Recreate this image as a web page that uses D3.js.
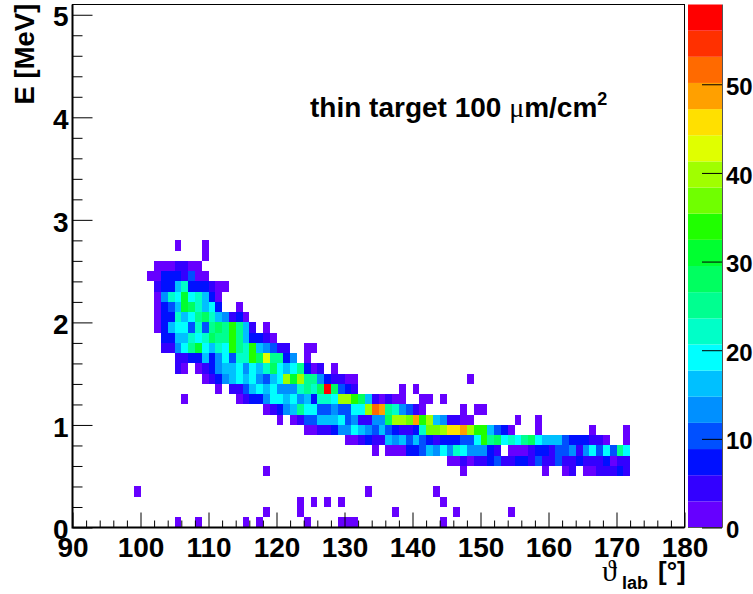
<!DOCTYPE html>
<html>
<head>
<meta charset="utf-8">
<script src="https://d3js.org/d3.v7.min.js"></script>
<style>
    html, body { margin: 0; padding: 0; background: #fff; }
    svg { display: block; }
    text { font-family: "Liberation Sans", Arial, sans-serif; font-weight: bold; fill: #000; }
</style>
</head>
<body>
<div id="chart"></div>
<script>
// bins are 1 degree wide and 0.1 MeV high
var binWidth = 1;
var binHeight = 0.1;

// each row of the histogram: lower energy edge, first angle, counts (0 = empty bin)
var rowEnergy = [2.7, 2.6, 2.5, 2.4, 2.3, 2.2, 2.1, 2.0, 1.9, 1.8, 1.7, 1.6, 1.5, 1.4, 1.3, 1.2, 1.1, 1.0, 0.9, 0.8, 0.7, 0.6, 0.5];
var rowStart = [105, 109, 102, 101, 102, 102, 102, 102, 102, 103, 103, 105, 105, 109, 111, 106, 118, 120, 124, 130, 134, 145, 162];
var rowCounts = [
    [1, 0, 0, 0, 1],
    [1],
    [1, 1, 1, 4, 4, 1, 1],
    [1, 1, 7, 7, 7, 4, 10, 1, 1],
    [4, 7, 7, 16, 22, 7, 7, 7, 4, 1, 1],
    [1, 13, 22, 19, 31, 19, 22, 16, 7, 1],
    [1, 7, 10, 16, 31, 28, 22, 16, 19, 7, 0, 0, 1],
    [1, 7, 7, 22, 16, 19, 25, 28, 22, 16, 13, 4, 7, 1],
    [1, 7, 16, 19, 19, 10, 22, 10, 25, 28, 25, 34, 25, 16, 4, 0, 1],
    [7, 7, 16, 16, 22, 19, 22, 28, 25, 25, 34, 25, 16, 7, 7, 4, 1],
    [4, 4, 13, 19, 25, 31, 19, 16, 22, 19, 34, 25, 22, 34, 16, 13, 10, 4, 4, 0, 0, 1, 1],
    [4, 4, 7, 7, 16, 7, 13, 19, 10, 22, 22, 34, 28, 43, 25, 25, 7, 13, 0, 1],
    [4, 1, 0, 1, 4, 7, 13, 16, 16, 19, 13, 19, 16, 22, 28, 19, 16, 19, 25, 7, 1, 4, 0, 1],
    [1, 4, 7, 13, 16, 19, 16, 19, 13, 10, 16, 19, 40, 31, 40, 25, 25, 13, 7, 4, 4, 1, 1, 0, 0, 0, 0, 0, 0, 0, 0, 0, 0, 0, 0, 0, 0, 0, 0, 1],
    [1, 0, 4, 4, 10, 16, 19, 16, 19, 13, 13, 13, 22, 25, 22, 28, 58, 28, 10, 7, 4, 0, 0, 0, 0, 0, 0, 1, 0, 1],
    [1, 0, 0, 0, 0, 0, 0, 0, 1, 4, 7, 7, 13, 19, 19, 16, 19, 13, 16, 7, 22, 22, 19, 40, 40, 34, 28, 16, 4, 1, 4, 1, 1, 0, 0, 1, 1, 0, 1],
    [1, 4, 7, 13, 16, 25, 19, 19, 10, 10, 13, 10, 10, 19, 19, 40, 52, 49, 25, 22, 13, 10, 4, 1, 0, 0, 0, 0, 0, 1, 0, 1, 1],
    [1, 0, 1, 4, 10, 10, 16, 16, 16, 19, 10, 13, 4, 4, 13, 13, 28, 40, 40, 37, 49, 34, 40, 16, 13, 4, 4, 1, 1, 0, 0, 0, 0, 0, 0, 1, 0, 0, 1],
    [1, 1, 4, 4, 7, 13, 13, 19, 16, 13, 10, 16, 10, 7, 4, 4, 7, 22, 37, 37, 40, 46, 46, 49, 40, 34, 34, 16, 10, 7, 1, 0, 0, 0, 1, 0, 0, 0, 0, 0, 0, 0, 1, 0, 0, 0, 0, 1],
    [1, 1, 4, 7, 4, 4, 16, 13, 16, 10, 16, 10, 7, 4, 7, 7, 7, 10, 10, 19, 34, 25, 28, 19, 22, 19, 25, 28, 19, 16, 16, 16, 10, 7, 7, 7, 4, 4, 1, 0, 0, 1],
    [1, 0, 1, 1, 1, 7, 7, 10, 16, 13, 19, 13, 22, 19, 13, 13, 13, 7, 4, 0, 1, 1, 1, 4, 7, 7, 4, 10, 10, 13, 4, 13, 19, 10, 19, 10, 25, 19],
    [1, 1, 4, 1, 4, 4, 7, 10, 4, 4, 7, 7, 4, 10, 4, 4, 10, 4, 4, 7, 4, 4, 4, 7, 1, 4, 4],
    [1, 4, 0, 1, 1, 4, 4, 4, 7, 4]
];

// single counts away from the main band
var loneAngle = [118, 147, 159, 99, 133, 143, 123, 125, 127, 129, 144, 118, 123, 137, 146, 154, 105, 108, 115, 117, 124, 129, 130, 131, 144];
var loneEnergy = [0.5, 0.5, 0.5, 0.3, 0.3, 0.3, 0.2, 0.2, 0.2, 0.2, 0.2, 0.1, 0.1, 0.1, 0.1, 0.1, 0, 0, 0, 0, 0, 0, 0, 0, 0];
var loneCount = 1;

// colour palette of the z axis, bottom to top
var paletteColors = ['#6600ff', '#3300ff', '#0010ff', '#0050ff', '#0090ff', '#00c0ff', '#00ffff', '#00ffc8', '#00ff90', '#00ff60',
    '#00ff30', '#20ff00', '#70ff00', '#a0ff00', '#e0ff00', '#ffe000', '#ffa000', '#ff6a00', '#ff3000', '#ff0000'];

var xTicks = [90, 100, 110, 120, 130, 140, 150, 160, 170, 180];
var yTicks = [0, 1, 2, 3, 4, 5];
var zTicks = [0, 10, 20, 30, 40, 50];

var width = 753, height = 594;
var left = 72.5, right = 684.5, top_ = 4.5, bottom = 527.5;
var barLeft = 688, barRight = 722;
var labelSize = 28;
var zLabelSize = 24;

var x = d3.scaleLinear().domain([90, 180]).range([left, right]);
var y = d3.scaleLinear().domain([0, 5.1]).range([bottom, top_]);
var z = d3.scaleLinear().domain([0, 59]).range([bottom, top_]);
var color = d3.scaleQuantize().domain([0, 59]).range(paletteColors);

var svg = d3.select('#chart').append('svg')
    .attr('width', width)
    .attr('height', height);

// flatten the rows into cells
var cells = [];
rowCounts.forEach(function(counts, i) {
    counts.forEach(function(c, k) {
        if (c > 0) cells.push({angle: rowStart[i] + k, energy: rowEnergy[i], count: c});
    });
});
loneAngle.forEach(function(a, i) {
    cells.push({angle: a, energy: loneEnergy[i], count: loneCount});
});

svg.append('g').selectAll('rect')
    .data(cells)
    .enter().append('rect')
    .attr('x', function(d) { return x(d.angle); })
    .attr('y', function(d) { return y(d.energy + binHeight); })
    .attr('width', x(binWidth + 90) - x(90))
    .attr('height', y(0) - y(binHeight))
    .attr('shape-rendering', 'crispEdges')
    .attr('fill', function(d) { return color(d.count); });

// frame
svg.append('rect')
    .attr('x', left).attr('y', top_)
    .attr('width', right - left).attr('height', bottom - top_)
    .attr('fill', 'none')
    .attr('stroke', '#000')
    .attr('stroke-width', 1);

svg.append('path')
    .attr('d', d3.line()([[left, top_], [left, bottom], [right, bottom]]))
    .attr('fill', 'none')
    .attr('stroke', '#000')
    .attr('stroke-width', 2);

// x axis, ticks point into the plot
var xAxis = svg.append('g').attr('transform', 'translate(0,' + bottom + ')')
    .call(d3.axisBottom(x).tickValues(xTicks).tickSize(-15).tickPadding(10).tickFormat(d3.format('d')));
xAxis.select('.domain').remove();
xAxis.selectAll('text').style('font-size', labelSize + 'px');

var xMinor = svg.append('g').attr('transform', 'translate(0,' + bottom + ')')
    .call(d3.axisBottom(x).tickValues(d3.range(90, 181, 2).filter(function(d) { return d % 10 != 0; })).tickSize(-7).tickFormat(''));
xMinor.select('.domain').remove();

// y axis
var yAxis = svg.append('g').attr('transform', 'translate(' + left + ',0)')
    .call(d3.axisLeft(y).tickValues(yTicks).tickSize(-20).tickPadding(4).tickFormat(d3.format('d')));
yAxis.select('.domain').remove();
yAxis.selectAll('text').style('font-size', labelSize + 'px').attr('dy', '0.4em');

var yMinor = svg.append('g').attr('transform', 'translate(' + left + ',0)')
    .call(d3.axisLeft(y).tickValues(d3.range(0, 26).map(function(d) { return d / 5; }).filter(function(d) { return d % 1 != 0; })).tickSize(-10).tickFormat(''));
yMinor.select('.domain').remove();

// colour bar
svg.append('g').selectAll('rect')
    .data(paletteColors)
    .enter().append('rect')
    .attr('x', barLeft)
    .attr('y', function(d, i) { return z((i + 1) * 59 / paletteColors.length); })
    .attr('width', barRight - barLeft)
    .attr('height', z(0) - z(59 / paletteColors.length))
    .attr('fill', function(d) { return d; });

var zAxis = svg.append('g').attr('transform', 'translate(' + barRight + ',0)')
    .call(d3.axisRight(z).tickValues(zTicks).tickSize(-20).tickPadding(4).tickFormat(d3.format('d')));
zAxis.select('.domain').attr('stroke', '#555').attr('d', 'M0.5,' + top_ + 'V' + bottom + 'H-34');
zAxis.selectAll('text').style('font-size', zLabelSize + 'px').attr('dy', '0.42em');

// titles
svg.append('text')
    .attr('transform', 'translate(33.5,104.5) rotate(-90)')
    .style('font-size', '27.5px')
    .text('E [MeV]');

var note = svg.append('text')
    .attr('x', 310)
    .attr('y', 117)
    .style('font-size', '28px');
note.append('tspan').text('thin target 100 ');
note.append('tspan').style('font-family', '"Liberation Serif", serif').style('font-weight', 'normal').text('μ');
note.append('tspan').text('m/cm');
note.append('tspan').attr('dy', -12).style('font-size', '18px').text('2');

svg.append('text')
    .attr('x', 602)
    .attr('y', 581)
    .style('font-family', '"Liberation Serif", serif')
    .style('font-weight', 'normal')
    .style('font-size', '30px')
    .text('ϑ');
svg.append('text').attr('x', 622).attr('y', 589).style('font-size', '18px').text('lab');
svg.append('text').attr('x', 658).attr('y', 580).style('font-size', '26px').text('[°]');
</script>
</body>
</html>
